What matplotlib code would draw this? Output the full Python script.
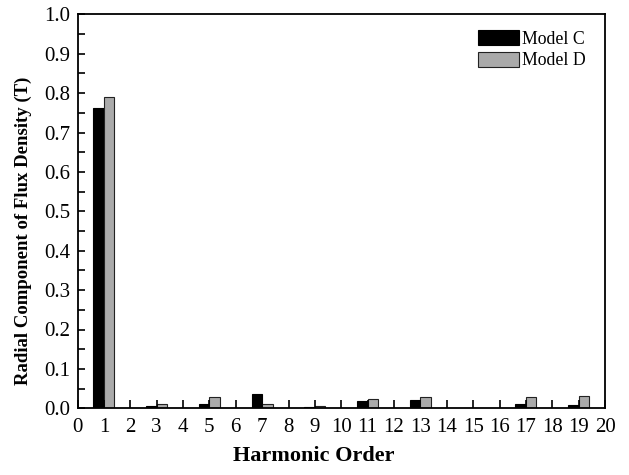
import numpy as np
import matplotlib
matplotlib.use("Agg")
import matplotlib.pyplot as plt
from matplotlib.ticker import MultipleLocator, FormatStrFormatter

plt.rcParams["font.family"] = ["Liberation Serif", "DejaVu Serif"]

# Harmonic amplitudes of the radial flux density (T)
harmonics = [1, 3, 5, 7, 9, 11, 13, 15, 17, 19]
model_c = [0.762, 0.006, 0.012, 0.036, 0.004, 0.019, 0.020, 0.0, 0.010, 0.008]
model_d = [0.790, 0.011, 0.028, 0.012, 0.006, 0.024, 0.029, 0.0, 0.029, 0.031]
series_names = ["Model C", "Model D"]

W, H = 629, 475
x0, x1, y0, y1 = 77.5, 605.0, 408.3, 14.3
fig = plt.figure(figsize=(W / 100, H / 100), dpi=100)
ax = fig.add_axes([x0 / W, 1 - y0 / H, (x1 - x0) / W, (y0 - y1) / H])

x = np.array(harmonics, dtype=float)
w = 0.4
ax.bar(x - w / 2, model_c, width=w, color="black", edgecolor="black",
       linewidth=0.8, label=series_names[0])
ax.bar(x + w / 2, model_d, width=w, color="#aaaaaa", edgecolor="#222222",
       linewidth=0.8, label=series_names[1])

ax.set_xlim(0, 20)
ax.set_ylim(0, 1.0)
ax.xaxis.set_major_locator(MultipleLocator(1))
ax.yaxis.set_major_locator(MultipleLocator(0.1))
ax.yaxis.set_minor_locator(MultipleLocator(0.05))
ax.yaxis.set_major_formatter(FormatStrFormatter("%.1f"))

ax.tick_params(axis="both", which="both", direction="in", top=False, right=False,
               labelsize=15, width=1.2)
ax.tick_params(axis="x", which="major", length=6, pad=7)
ax.tick_params(axis="y", which="major", length=5, pad=5)
ax.tick_params(axis="y", which="minor", length=5)
for s in ax.spines.values():
    s.set_linewidth(1.3)

ax.set_xlabel("Harmonic Order", fontsize=16, fontweight="bold")
ax.xaxis.set_label_coords((314 - x0) / (x1 - x0), -(456 - y0) / (y0 - y1))
ax.set_ylabel("Radial Component of Flux Density (T)", fontsize=13.5,
              fontweight="bold")
ax.yaxis.set_label_coords(-(x0 - 23) / (x1 - x0), (y0 - 231) / (y0 - y1))
ax.xaxis.label.set_verticalalignment("center")
ax.yaxis.label.set_verticalalignment("center")

ax.legend(loc="upper right", frameon=False, fontsize=12.8,
          handlelength=2.3, handleheight=0.9, handletextpad=0.2,
          labelspacing=0.25, borderaxespad=0.0, borderpad=0.0,
          bbox_to_anchor=((586 - x0) / (x1 - x0), (y0 - 30) / (y0 - y1)))

fig.savefig("out.png", dpi=100)
